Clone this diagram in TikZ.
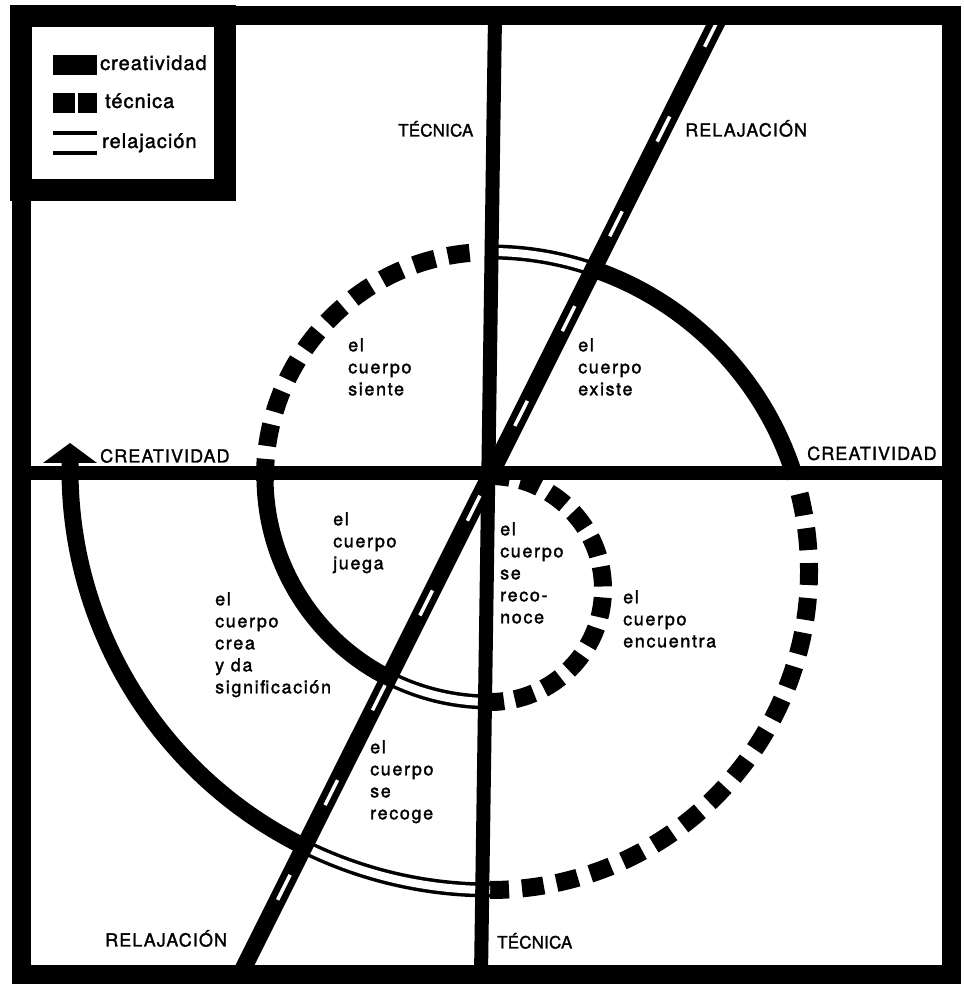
\documentclass[tikz,border=0pt]{standalone}
\usepackage{fontspec}
\setmainfont{TeX Gyre Heros}
\newfontfamily\labfont{TeX Gyre Heros}[LetterSpace=9,FakeBold=1.6]
\newfontfamily\legfont{TeX Gyre Heros}[LetterSpace=5,FakeBold=1.6]
\newfontfamily\capfont{TeX Gyre Heros}[LetterSpace=6,FakeBold=1.4]
\newfontfamily\capnarrow{TeX Gyre Heros}[LetterSpace=1,FakeBold=1.4]
\usetikzlibrary{calc}
\begin{document}
\begin{tikzpicture}[x=1pt,y=1pt,
  solidarc/.style={line width=17pt, line cap=butt},
  dasharc/.style={line width=18pt, dash pattern=on 22pt off 13pt},
  dasharcsmall/.style={line width=18pt, dash pattern=on 20pt off 11pt},
  relarc/.style={double=white, double distance=8pt, line width=3.5pt},
  axisline/.style={line width=14pt},
  lab/.style={font=\labfont\fontsize{18}{22}\selectfont, align=left, anchor=north west, inner sep=0pt},
  caps/.style={font=\capfont\fontsize{18}{22}\selectfont, anchor=base west, inner sep=0pt},
  capsn/.style={font=\capnarrow\fontsize{17}{22}\selectfont, anchor=base west, inner sep=0pt},
  leg/.style={font=\legfont\fontsize{20}{24}\selectfont, anchor=base west, inner sep=0pt}]
\fill[white] (0,0) rectangle (963,984);
\useasboundingbox (0,0) rectangle (963,984);
\coordinate (c1) at (490,395);
\coordinate (c2) at (490,507);
\coordinate (c3) at (490,413);
\coordinate (c4) at (490,514);
% spiral, arc 1 (tecnica)
\draw[dasharcsmall] ($(c1)+(90:113)$) arc[start angle=90, end angle=-90, radius=113];
% arc 2
\draw[relarc] ($(c2)+(270:225)$) arc[start angle=270, end angle=243.5, radius=225];
\draw[solidarc] ($(c2)+(243.5:225)$) arc[start angle=243.5, end angle=180.5, radius=225];
\draw[dasharc] ($(c2)+(181:225)$) arc[start angle=181, end angle=95, radius=225];
% arc 3
\draw[relarc] ($(c3)+(90:319)$) arc[start angle=90, end angle=71.2, radius=319];
\draw[solidarc] ($(c3)+(71.2:319)$) arc[start angle=71.2, end angle=17, radius=319];
\draw[dasharc] ($(c3)+(14:319)$) arc[start angle=14, end angle=-90, radius=319];
% arc 4 with arrow
\draw[relarc] ($(c4)+(270:420)$) arc[start angle=270, end angle=243.7, radius=420];
\draw[solidarc] ($(c4)+(243.7:420)$) arc[start angle=243.7, end angle=180, radius=420] -- ++(0,9);
\fill (70,541) -- (97,521) -- (43,521) -- cycle;
% axes
\draw[axisline] (21,511) -- (951,511);
\draw[line width=14pt] (495,968) -- (481,9);
% diagonal (relajacion)
\draw[line width=17pt] (240,9) -- (720,968);
\draw[white, line width=3.5pt, dash pattern=on 28pt off 78pt, dash phase=22pt] (240,9) -- (720,968);
% frame and legend box
\draw[line width=19pt] (21,968) rectangle (951,9);
\draw[line width=22pt] (21,968) rectangle (225,794);
\fill (53,929) rectangle (97,909);
\fill (53,891) rectangle (75,871);
\fill (78,891) rectangle (97,871);
\draw[line width=4pt] (53,851) -- (97,851);
\draw[line width=4pt] (53,831) -- (97,831);
\node[leg] (lc) at (100,914) {creatividad};
\node[leg] (lt) at (105,876) {técnica};
\node[leg] (lr) at (102,836) {relajación};
% axis labels
\node[capsn] (tt) at (398,847.5) {TÉCNICA};
\node[caps] (rt) at (685,847.5) {RELAJACIÓN};
\node[caps] (cl) at (100,521.5) {CREATIVIDAD};
\node[caps] (cr) at (807,524) {CREATIVIDAD};
\node[caps] (rb) at (105,37.5) {RELAJACIÓN};
\node[capsn] (tb) at (497,35.5) {TÉCNICA};
% inner labels
\node[lab] (siente) at (348,646) {el\\cuerpo\\siente};
\node[lab] (existe) at (578,646) {el\\cuerpo\\existe};
\node[lab] (juega) at (333,472) {el\\cuerpo\\juega};
\node[lab] (crea) at (215,392) {el\\cuerpo\\crea\\y da\\significación};
\node[lab] (reconoce) at (500,462) {el\\cuerpo\\se\\reco-\\noce};
\node[lab] (encuentra) at (623,394) {el\\cuerpo\\encuentra};
\node[lab] (recoge) at (370,244) {el\\cuerpo\\se\\recoge};
\end{tikzpicture}
\end{document}
